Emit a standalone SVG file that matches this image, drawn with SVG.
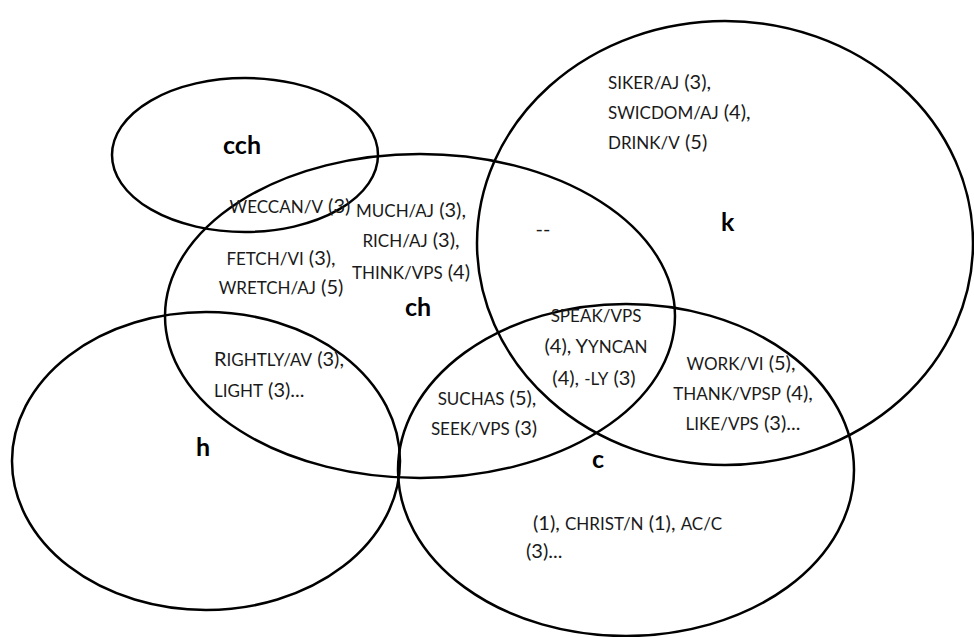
<svg xmlns="http://www.w3.org/2000/svg" width="974" height="637" viewBox="0 0 974 637">
  <style>
    .set { fill: none; stroke: #000; stroke-width: 2.5; }
    .t { font-family: Lato, "Open Sans", sans-serif; font-size: 20px; fill: #1a1a1a; }
    .sc { font-size: 17px; }
    .m { text-anchor: middle; }
    .lbl { font-family: Lato, "Open Sans", sans-serif; font-size: 25px; font-weight: bold; fill: #000; }
  </style>

  <!-- sets -->
  <g id="set-cch"><ellipse class="set" cx="245" cy="155" rx="133" ry="77"/></g>
  <g id="set-ch"><ellipse class="set" cx="420" cy="316" rx="255" ry="162"/></g>
  <g id="set-k"><ellipse class="set" cx="725" cy="243" rx="248" ry="222"/></g>
  <g id="set-h"><ellipse class="set" cx="206" cy="461" rx="194" ry="149"/></g>
  <g id="set-c"><ellipse class="set" cx="626" cy="470" rx="228" ry="166"/></g>

  <!-- set names -->
  <g id="labels">
    <text class="lbl" x="223" y="154">cch</text>
    <text class="lbl" x="405" y="316">ch</text>
    <text class="lbl" x="721" y="231">k</text>
    <text class="lbl" x="196" y="456">h</text>
    <text class="lbl" x="592" y="468">c</text>
  </g>

  <!-- region contents -->
  <g id="region-k">
    <text class="t" x="608" y="89"><tspan class="sc">SIKER/AJ</tspan> (3),</text>
    <text class="t" x="608" y="119"><tspan class="sc">SWICDOM/AJ</tspan> (4),</text>
    <text class="t" x="608" y="149"><tspan class="sc">DRINK/V</tspan> (5)</text>
  </g>

  <g id="region-cch-ch">
    <text class="t m" x="290" y="213"><tspan class="sc">WECCAN/V</tspan> (3)</text>
  </g>

  <g id="region-ch">
    <text class="t m" x="411" y="217"><tspan class="sc">MUCH/AJ</tspan> (3),</text>
    <text class="t m" x="411" y="247"><tspan class="sc">RICH/AJ</tspan> (3),</text>
    <text class="t m" x="411" y="279"><tspan class="sc">THINK/VPS</tspan> (4)</text>
    <text class="t m" x="281" y="265"><tspan class="sc">FETCH/VI</tspan> (3),</text>
    <text class="t m" x="281" y="294"><tspan class="sc">WRETCH/AJ</tspan> (5)</text>
  </g>

  <g id="region-ch-k">
    <text class="t m" x="543" y="236">--</text>
  </g>

  <g id="region-ch-k-c">
    <text class="t m" x="596" y="322"><tspan class="sc">SPEAK/VPS</tspan></text>
    <text class="t m" x="596" y="353">(4), Y<tspan class="sc">YNCAN</tspan></text>
    <text class="t m" x="594" y="385">(4), <tspan class="sc">-LY</tspan> (3)</text>
  </g>

  <g id="region-k-c">
    <text class="t m" x="741" y="370"><tspan class="sc">WORK/VI</tspan> (5),</text>
    <text class="t m" x="743" y="400"><tspan class="sc">THANK/VPSP</tspan> (4),</text>
    <text class="t m" x="743" y="430"><tspan class="sc">LIKE/VPS</tspan> (3)...</text>
  </g>

  <g id="region-ch-h">
    <text class="t" x="214" y="366">R<tspan class="sc">IGHTLY/AV</tspan> (3),</text>
    <text class="t" x="214" y="397"><tspan class="sc">LIGHT</tspan> (3)...</text>
  </g>

  <g id="region-ch-c">
    <text class="t m" x="487" y="405"><tspan class="sc">SUCHAS</tspan> (5),</text>
    <text class="t m" x="484" y="435"><tspan class="sc">SEEK/VPS</tspan> (3)</text>
  </g>

  <g id="region-c">
    <text class="t" x="533" y="530">(1),  <tspan class="sc">CHRIST/N</tspan> (1), <tspan class="sc">AC/C</tspan></text>
    <text class="t" x="526" y="558">(3)...</text>
  </g>
</svg>
